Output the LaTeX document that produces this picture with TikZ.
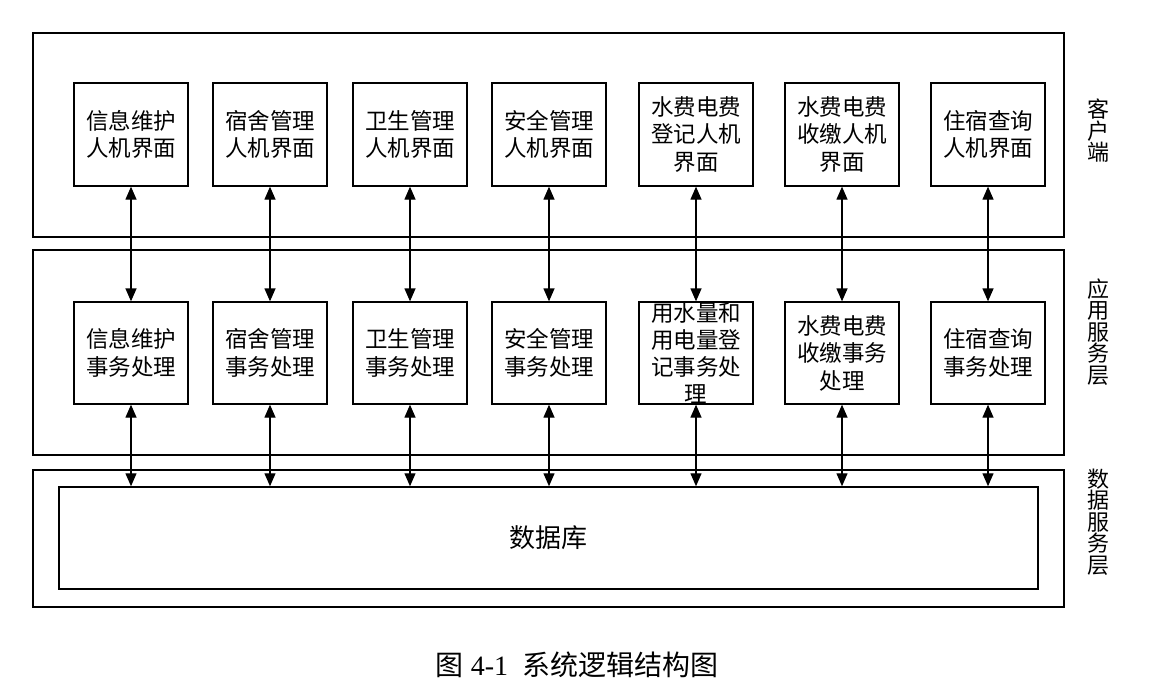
\documentclass[tikz,border=0pt]{standalone}
\usepackage{fontspec}
\setmainfont{Liberation Serif}
\newfontfamily\cjk{Noto Sans CJK SC}
\usetikzlibrary{arrows.meta}
\begin{document}
\begin{tikzpicture}[x=1pt,y=-1pt,
  layer/.style={draw,line width=2.2pt,inner sep=0pt},
  box/.style={draw,line width=1.3pt,minimum width=114pt,minimum height=103pt,inner sep=0pt,align=center,font=\cjk\fontsize{22.5}{27.5}\selectfont},
  side/.style={align=center,inner sep=0pt,font=\cjk\fontsize{22}{21.5}\selectfont},
  arr/.style={line width=1.3pt,{Triangle[length=13pt,width=11pt]}-{Triangle[length=13pt,width=11pt]}}]
\useasboundingbox (0,0) rectangle (1155,693);
% layers
\node[layer,minimum width=1031pt,minimum height=204pt] (L1) at (548.5,135) {};
\node[layer,minimum width=1031pt,minimum height=205pt] (L2) at (548.5,352.5) {};
\node[layer,minimum width=1031pt,minimum height=137pt] (L3) at (548.5,538.5) {};
\node[draw,line width=1.5pt,minimum width=979pt,minimum height=102pt,inner sep=0pt,font=\cjk\fontsize{26}{30}\selectfont] (db) at (548.5,538) {数据库};
% top boxes
\node[box] (t1) at (131,134.5) {信息维护\\人机界面};
\node[box] (t2) at (270,134.5) {宿舍管理\\人机界面};
\node[box] (t3) at (410,134.5) {卫生管理\\人机界面};
\node[box] (t4) at (549,134.5) {安全管理\\人机界面};
\node[box] (t5) at (696,134.5) {水费电费\\登记人机\\界面};
\node[box] (t6) at (842,134.5) {水费电费\\收缴人机\\界面};
\node[box] (t7) at (988,134.5) {住宿查询\\人机界面};
% middle boxes
\node[box,minimum height=102pt] (m1) at (131,353) {信息维护\\事务处理};
\node[box,minimum height=102pt] (m2) at (270,353) {宿舍管理\\事务处理};
\node[box,minimum height=102pt] (m3) at (410,353) {卫生管理\\事务处理};
\node[box,minimum height=102pt] (m4) at (549,353) {安全管理\\事务处理};
\node[box,minimum height=102pt] (m5) at (696,353) {};
\node[align=center,inner sep=0pt,font=\cjk\fontsize{22.5}{27}\selectfont] (m5t) at (m5.center) {用水量和\\用电量登\\记事务处\\理};
\node[box,minimum height=102pt] (m6) at (842,353) {水费电费\\收缴事务\\处理};
\node[box,minimum height=102pt] (m7) at (988,353) {住宿查询\\事务处理};
% arrows
\foreach \i in {1,...,7}{
  \draw[arr] (t\i.south) -- (m\i.north);
  \draw[arr] (m\i.south) -- (m\i.south |- db.north);
}
% side labels
\node[side] (s1) at (1098,131) {客\\户\\端};
\node[side] (s2) at (1098,332) {应\\用\\服\\务\\层};
\node[side] (s3) at (1098,522) {数\\据\\服\\务\\层};
% caption
\node[inner sep=0pt,font=\fontsize{28}{32}\selectfont] (cap) at (577,665) {{\cjk 图} 4-1\ \ {\cjk 系统逻辑结构图}};
\end{tikzpicture}
\end{document}
